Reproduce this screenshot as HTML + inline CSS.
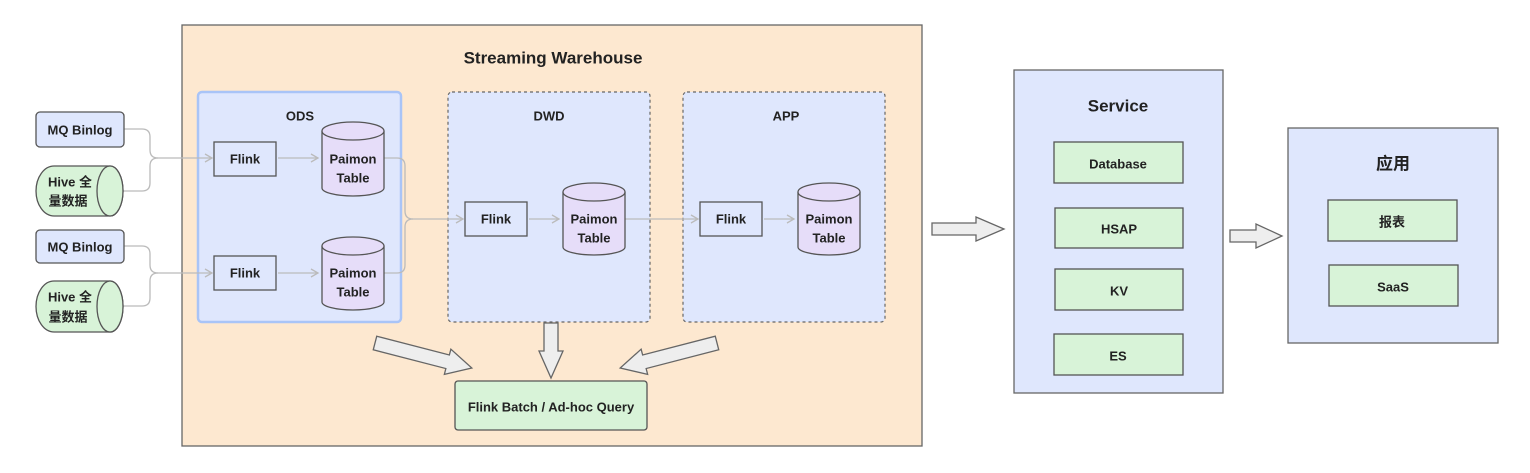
<!DOCTYPE html>
<html><head><meta charset="utf-8"><style>
body{margin:0;background:#fff;}
svg text{font-family:"Liberation Sans","Noto Sans CJK SC",sans-serif;font-weight:bold;fill:#222;text-anchor:middle;dominant-baseline:central;}
</style></head><body>
<svg width="1530" height="468" viewBox="0 0 1530 468" xmlns="http://www.w3.org/2000/svg">
<defs>
<marker id="ah" markerWidth="10" markerHeight="10" refX="8" refY="5" orient="auto" markerUnits="userSpaceOnUse">
<path d="M1,1 L8,5 L1,9" fill="none" stroke="#bbb" stroke-width="1.3"/></marker>
</defs>
<!-- warehouse -->
<rect x="182" y="25" width="740" height="421" fill="#fde8d0" stroke="#666" stroke-width="1.3"/>
<text x="553" y="58" font-size="17">Streaming Warehouse</text>
<!-- ODS/DWD/APP -->
<rect x="198" y="92" width="203" height="230" rx="4" fill="#dfe7fd" stroke="#a9c4f7" stroke-width="2.5"/>
<text x="300" y="116" font-size="13">ODS</text>
<rect x="448" y="92" width="202" height="230" rx="4" fill="#dfe7fd" stroke="#666" stroke-width="1.2" stroke-dasharray="3,3"/>
<text x="549" y="116" font-size="13">DWD</text>
<rect x="683" y="92" width="202" height="230" rx="4" fill="#dfe7fd" stroke="#666" stroke-width="1.2" stroke-dasharray="3,3"/>
<text x="786" y="116" font-size="13">APP</text>
<!-- connectors -->
<g fill="none" stroke="#bbb" stroke-width="1.3">
<path d="M124,129 H142 Q150,129 150,137 V150 Q150,158 158,158 H212" marker-end="url(#ah)"/>
<path d="M123,191 H142 Q150,191 150,183 V166 Q150,158 158,158"/>
<path d="M124,246 H142 Q150,246 150,254 V265 Q150,273 158,273 H212" marker-end="url(#ah)"/>
<path d="M123,306 H142 Q150,306 150,298 V281 Q150,273 158,273"/>
<path d="M278,158 H318" marker-end="url(#ah)"/>
<path d="M278,273 H318" marker-end="url(#ah)"/>
<path d="M384,158 H397 Q405,158 405,166 V211 Q405,219 413,219 H463" marker-end="url(#ah)"/>
<path d="M384,273 H397 Q405,273 405,265 V227 Q405,219 413,219"/>
<path d="M529,219 H559" marker-end="url(#ah)"/>
<path d="M625,219 H698" marker-end="url(#ah)"/>
<path d="M764,219 H794" marker-end="url(#ah)"/>
</g>
<!-- left sources -->
<rect x="36" y="112" width="88" height="35" rx="4" fill="#dfe7fd" stroke="#555" stroke-width="1.3"/>
<text x="80" y="130" font-size="13">MQ Binlog</text>
<rect x="36" y="230" width="88" height="33" rx="4" fill="#dfe7fd" stroke="#555" stroke-width="1.3"/>
<text x="80" y="247" font-size="13">MQ Binlog</text>
<g fill="#d8f3d8" stroke="#555" stroke-width="1.3">
<path d="M54,166 H110 A13,25 0 0 1 110,216 H54 A18,25 0 0 1 54,166 Z"/>
<ellipse cx="110" cy="191" rx="13" ry="25"/>
<path d="M54,281 H110 A13,25.5 0 0 1 110,332 H54 A18,25.5 0 0 1 54,281 Z"/>
<ellipse cx="110" cy="306.5" rx="13" ry="25.5"/>
</g>
<text x="70" y="182" font-size="13">Hive 全</text><text x="68" y="201" font-size="13">量数据</text>
<text x="70" y="297" font-size="13">Hive 全</text><text x="68" y="317" font-size="13">量数据</text>
<!-- flinks -->
<g fill="#dfe7fd" stroke="#555" stroke-width="1.3">
<rect x="214" y="142" width="62" height="34"/>
<rect x="214" y="256" width="62" height="34"/>
<rect x="465" y="202" width="62" height="34"/>
<rect x="700" y="202" width="62" height="34"/>
</g>
<text x="245" y="159" font-size="13">Flink</text>
<text x="245" y="273" font-size="13">Flink</text>
<text x="496" y="219" font-size="13">Flink</text>
<text x="731" y="219" font-size="13">Flink</text>
<!-- paimon cylinders -->
<g fill="#e6ddf9" stroke="#555" stroke-width="1.3">
<path d="M322,131 V188 A31,8 0 0 0 384,188 V131"/><ellipse cx="353" cy="131" rx="31" ry="9"/>
<path d="M322,246 V302 A31,8 0 0 0 384,302 V246"/><ellipse cx="353" cy="246" rx="31" ry="9"/>
<path d="M563,192 V247 A31,8 0 0 0 625,247 V192"/><ellipse cx="594" cy="192" rx="31" ry="9"/>
<path d="M798,192 V247 A31,8 0 0 0 860,247 V192"/><ellipse cx="829" cy="192" rx="31" ry="9"/>
</g>
<text x="353" y="159" font-size="13">Paimon</text><text x="353" y="178" font-size="13">Table</text>
<text x="353" y="273" font-size="13">Paimon</text><text x="353" y="292" font-size="13">Table</text>
<text x="594" y="219" font-size="13">Paimon</text><text x="594" y="238" font-size="13">Table</text>
<text x="829" y="219" font-size="13">Paimon</text><text x="829" y="238" font-size="13">Table</text>
<!-- fat arrows -->
<g fill="#eeeeee" stroke="#666" stroke-width="1.3">
<polygon transform="translate(375,343) rotate(14.5)" points="0,-7 75,-7 75,-13 100,0 75,13 75,7 0,7"/>
<polygon transform="translate(551,323) rotate(90)" points="0,-7 28,-7 28,-12 55,0 28,12 28,7 0,7"/>
<polygon transform="translate(717,343) rotate(165.5)" points="0,-7 75,-7 75,-13 100,0 75,13 75,7 0,7"/>
<polygon transform="translate(932,229)" points="0,-6 44,-6 44,-12 72,0 44,12 44,6 0,6"/>
<polygon transform="translate(1230,236)" points="0,-6 26,-6 26,-12 52,0 26,12 26,6 0,6"/>
</g>
<rect x="455" y="381" width="192" height="49" rx="3" fill="#d8f3d8" stroke="#555" stroke-width="1.3"/>
<text x="551" y="407" font-size="13">Flink Batch / Ad-hoc Query</text>
<!-- Service -->
<rect x="1014" y="70" width="209" height="323" fill="#dfe7fd" stroke="#666" stroke-width="1.3"/>
<text x="1118" y="106" font-size="17">Service</text>
<rect x="1288" y="128" width="210" height="215" fill="#dfe7fd" stroke="#666" stroke-width="1.3"/>
<text x="1393" y="164" font-size="17">应用</text>
<g fill="#d8f3d8" stroke="#555" stroke-width="1.3">
<rect x="1054" y="142" width="129" height="41"/>
<rect x="1055" y="208" width="128" height="40"/>
<rect x="1055" y="269" width="128" height="41"/>
<rect x="1054" y="334" width="129" height="41"/>
<rect x="1328" y="200" width="129" height="41"/>
<rect x="1329" y="265" width="129" height="41"/>
</g>
<text x="1118" y="164" font-size="13">Database</text>
<text x="1119" y="229" font-size="13">HSAP</text>
<text x="1119" y="291" font-size="13">KV</text>
<text x="1118" y="356" font-size="13">ES</text>
<text x="1392" y="222" font-size="13">报表</text>
<text x="1393" y="287" font-size="13">SaaS</text>
</svg>
</body></html>
